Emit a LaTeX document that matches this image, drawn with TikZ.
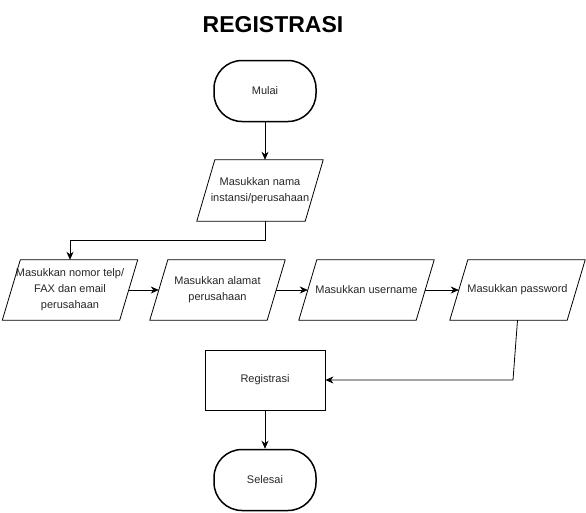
\documentclass[tikz,border=0pt]{standalone}
\usepackage{fontspec}
\setmainfont{Liberation Sans}
\usetikzlibrary{shapes,arrows.meta}

\begin{document}
\begin{tikzpicture}[x=1pt,y=-1pt]
		\tikzstyle{every node}=[font=\fontsize{11}{16}\selectfont, align=center, text=black!85];
		\tikzstyle{terminal}=[draw=black, line width=1.5pt, rounded corners=28pt, minimum width=102pt, minimum height=61pt];
		\tikzstyle{io}=[rectangle, minimum width=117pt, minimum height=60pt, inner sep=0pt];
		\tikzstyle{process}=[draw=black, line width=0.8pt, rectangle, minimum width=120pt, minimum height=60pt];
		\tikzstyle{flow}=[-{Stealth[length=8pt,width=7pt,inset=2.5pt]}, line width=0.8pt];
		\useasboundingbox (0,0) rectangle (586,512);
		\node[font=\fontsize{23}{27}\selectfont\bfseries, text=black] (title) at (273,25) {REGISTRASI};
		\node[terminal] (mulai) at (265,91) {Mulai};
		\node[io, minimum width=108pt, minimum height=61pt] (nama) at (260,190.5) {Masukkan nama\\instansi/perusahaan};
		\node[io] (telp) at (70,290) {Masukkan nomor telp/\\FAX dan email\\perusahaan};
		\node[io] (alamat) at (217.5,290) {Masukkan alamat\\perusahaan};
		\node[io] (username) at (366.5,290) {Masukkan username};
		\node[io] (password) at (517.5,290) {Masukkan password};
		\node[process] (registrasi) at (265,380) {Registrasi};
		\node[terminal] (selesai) at (265,480) {Selesai};
		\coordinate (belok) at (513,380);
		% jajar genjang untuk input
		\foreach \n in {nama,telp,alamat,username,password}
			\draw[line width=0.8pt] ([xshift=9pt]\n.north west) -- ([xshift=9pt]\n.north east) -- ([xshift=-9pt]\n.south east) -- ([xshift=-9pt]\n.south west) -- cycle;
		\draw[flow] (mulai) -- (mulai |- nama.north);
		\draw[flow] (mulai |- nama.south) -- ++(0,19) -| (telp.north);
		\draw[flow] (telp.east) -- (alamat.west);
		\draw[flow] (alamat.east) -- (username.west);
		\draw[flow] (username.east) -- (password.west);
		\draw[flow] (password.south) -- (belok) -- (registrasi.east);
		\draw[flow] (registrasi) -- (selesai);
	\end{tikzpicture}
\end{document}
